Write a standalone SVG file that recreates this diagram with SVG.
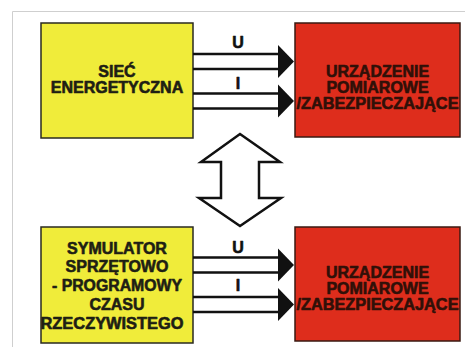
<svg xmlns="http://www.w3.org/2000/svg" width="465" height="347" viewBox="0 0 465 347">
<defs>
<style>
.frame{fill:none;stroke:#cfcfcf;stroke-width:1}
.yel{fill:#f0ec3a;stroke:#2a2a20;stroke-width:1.5}
.red{fill:#de2d1c;stroke:#3a1a12;stroke-width:1.5}
.t{font-family:"Liberation Sans",Arial,sans-serif;font-weight:bold;font-size:16px;text-anchor:middle;stroke-width:0.6;stroke-linejoin:round}
.ty{fill:#1e1e14;stroke:#1e1e14}
.tr{fill:#301008;stroke:#301008}
.tb{fill:#111;stroke:#111}
.ln{stroke:#111;stroke-width:2.5;fill:none}
.hd{fill:#111}
.big{fill:#fff;stroke:#111;stroke-width:2.5;stroke-linejoin:miter}
</style>
</defs>
<path class="frame" d="M12.5,347 V11.5 H465"/>
<g id="siec">
<rect class="yel" x="41" y="23" width="152" height="115"/>
<text class="t ty" x="117" y="77">SIEĆ</text>
<text class="t ty" x="117" y="93">ENERGETYCZNA</text>
</g>
<g id="urzadzenie1">
<rect class="red" x="295" y="23" width="165" height="114"/>
<text class="t tr" x="377.5" y="77">URZĄDZENIE</text>
<text class="t tr" x="377.5" y="93">POMIAROWE</text>
<text class="t tr" x="377.5" y="109" textLength="162" lengthAdjust="spacingAndGlyphs">/ZABEZPIECZAJĄCE</text>
</g>
<g id="symulator">
<rect class="yel" x="41" y="227" width="152" height="116"/>
<text class="t ty" x="117" y="254">SYMULATOR</text>
<text class="t ty" x="117" y="272">SPRZĘTOWO</text>
<text class="t ty" x="117" y="290.5" textLength="130" lengthAdjust="spacingAndGlyphs">- PROGRAMOWY</text>
<text class="t ty" x="117" y="309.5">CZASU</text>
<text class="t ty" x="112" y="329" textLength="143" lengthAdjust="spacingAndGlyphs">RZECZYWISTEGO</text>
</g>
<g id="urzadzenie2">
<rect class="red" x="295" y="227" width="165" height="114"/>
<text class="t tr" x="377.5" y="278">URZĄDZENIE</text>
<text class="t tr" x="377.5" y="294">POMIAROWE</text>
<text class="t tr" x="377.5" y="310" textLength="162" lengthAdjust="spacingAndGlyphs">/ZABEZPIECZAJĄCE</text>
</g>
<g id="connectors">
<path class="ln" d="M193,54 H280 M193,69 H280 M193,93.5 H280 M193,108.5 H280"/>
<polygon class="hd" points="278,45 294,61.5 278,78"/>
<polygon class="hd" points="278,84.5 294,101 278,117.5"/>
<text class="t tb" x="238" y="48">U</text>
<text class="t tb" x="238" y="89">I</text>
<path class="ln" d="M193,257.5 H280 M193,272.5 H280 M193,297 H280 M193,312 H280"/>
<polygon class="hd" points="278,248.5 294,265 278,281.5"/>
<polygon class="hd" points="278,288 294,304.5 278,321"/>
<text class="t tb" x="238" y="253">U</text>
<text class="t tb" x="238" y="291">I</text>
<polygon class="big" points="240,134 280,162 259,162 259,198 281,198 240,226 199,198 221,198 221,162 201,162"/>
</g>
</svg>
